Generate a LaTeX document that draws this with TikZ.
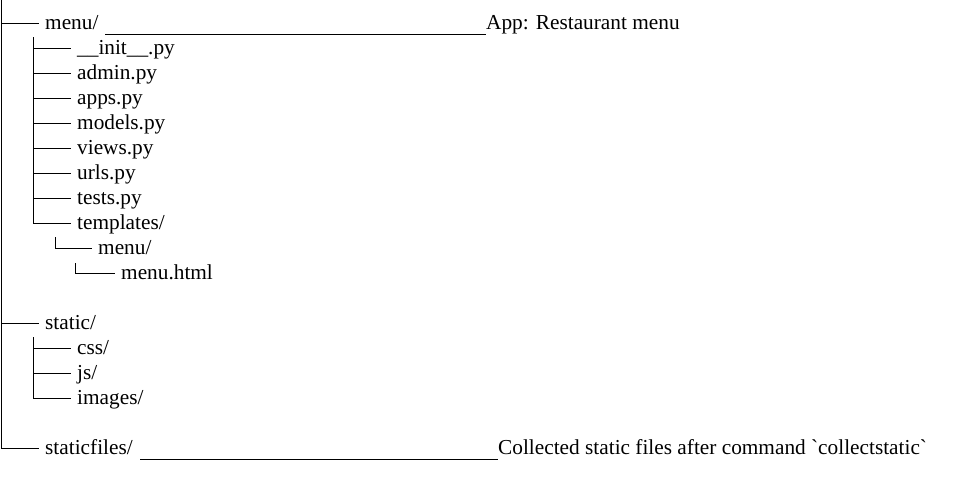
\documentclass[tikz,border=0pt]{standalone}
\usepackage{fontspec}
\setmainfont{Liberation Serif}
\usepackage{tikz}
\usetikzlibrary{positioning}

\begin{document}
\begin{tikzpicture}[x=1pt, y=-25pt, font=\fontsize{21.3}{25}\selectfont]
		% Define the styles for the tree entries and branches
		\tikzstyle{entry}=[anchor=west, inner xsep=6pt, inner ysep=0pt, text height=12pt, text depth=0pt]
		\tikzstyle{note}=[entry, inner xsep=0pt]
		\tikzstyle{branch}=[draw=black, line width=1pt]
		\tikzstyle{leader}=[draw=black, line width=1pt]

		\useasboundingbox (0,-0.92) rectangle (958,19.04);

		% Define trunk points
		\coordinate (root) at (1,-0.92);
		\coordinate (menutree) at (33,0.56);
		\coordinate (tpltree) at (55,8.56);
		\coordinate (subtree) at (75,9.6);
		\coordinate (statictree) at (33,12.56);

		% Define nodes
		\node (menu) [entry] at (39,0) {menu/};
		\node (init) [entry] at (71,1) {\_\_init\_\_.py};
		\node (admin) [entry] at (71,2) {admin.py};
		\node (apps) [entry] at (71,3) {apps.py};
		\node (models) [entry] at (71,4) {models.py};
		\node (views) [entry] at (71,5) {views.py};
		\node (urls) [entry] at (71,6) {urls.py};
		\node (tests) [entry] at (71,7) {tests.py};
		\node (templates) [entry] at (71,8) {templates/};
		\node (tplmenu) [entry] at (92,9) {menu/};
		\node (menuhtml) [entry] at (115,10) {menu.html};
		\node (static) [entry] at (39,12) {static/};
		\node (css) [entry] at (71,13) {css/};
		\node (js) [entry] at (71,14) {js/};
		\node (images) [entry] at (71,15) {images/};
		\node (staticfiles) [entry] at (39,17) {staticfiles/};

		\node (menunote) [note] at (486,0) {App: Restaurant menu};
		\node (sfnote) [note] at (498,17) {Collected static files after command \textasciigrave collectstatic\textasciigrave};
		\coordinate (menulead) at (105,0.44);
		\coordinate (sflead) at (140,17.44);

		% Define edges
		\draw[branch] (root) |- (menu.west);
		\draw[branch] (root) |- (static.west);
		\draw[branch] (root) |- (staticfiles.west);

		\draw[branch] (menutree) |- (init.west);
		\draw[branch] (menutree) |- (admin.west);
		\draw[branch] (menutree) |- (apps.west);
		\draw[branch] (menutree) |- (models.west);
		\draw[branch] (menutree) |- (views.west);
		\draw[branch] (menutree) |- (urls.west);
		\draw[branch] (menutree) |- (tests.west);
		\draw[branch] (menutree) |- (templates.west);
		\draw[branch] (tpltree) |- (tplmenu.west);
		\draw[branch] (subtree) |- (menuhtml.west);

		\draw[branch] (statictree) |- (css.west);
		\draw[branch] (statictree) |- (js.west);
		\draw[branch] (statictree) |- (images.west);

		\draw[leader] (menulead) -- (menulead -| menunote.west);
		\draw[leader] (sflead) -- (sflead -| sfnote.west);
	\end{tikzpicture}
\end{document}
